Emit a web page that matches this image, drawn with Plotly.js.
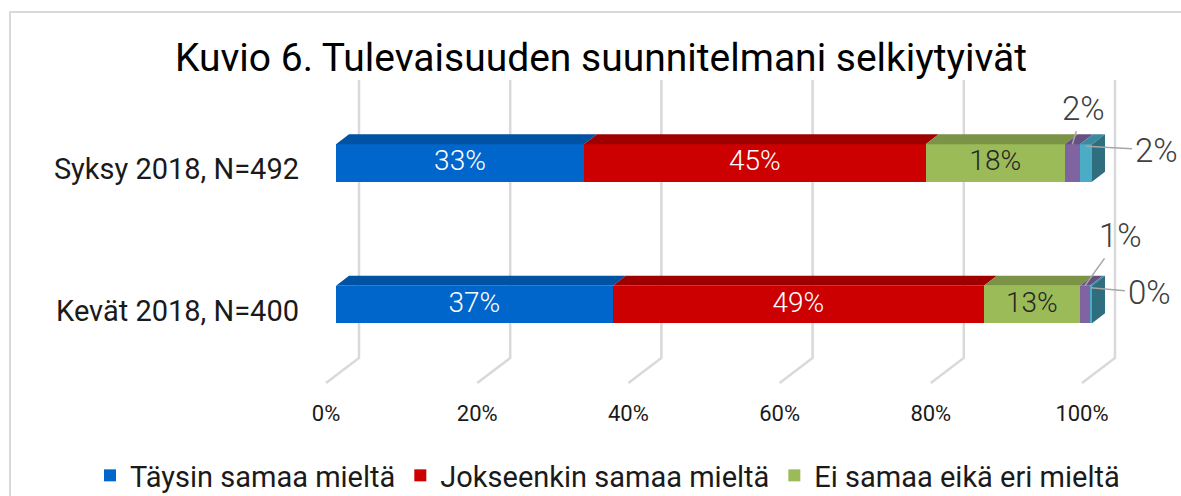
<!DOCTYPE html>
<html>
<head>
<meta charset="utf-8">
<script src="https://cdn.plot.ly/plotly-3.0.1.min.js"></script>
<style>
html,body{margin:0;padding:0;background:#fff;}
#chart{width:1181px;height:496px;}
</style>
</head>
<body>
<div id="chart"></div>
<script>
// ---------- DATA ----------
const categories = ['Kevät 2018, N=400', 'Syksy 2018, N=492'];
const seriesNames = ['Täysin samaa mieltä', 'Jokseenkin samaa mieltä', 'Ei samaa eikä eri mieltä', 'Jokseenkin eri mieltä', 'Täysin eri mieltä'];
const taysinSamaa     = [36.6, 32.8];
const jokseenkinSamaa = [49.1, 45.2];
const eiSamaaEikaEri  = [12.7, 18.4];
const jokseenkinEri   = [1.3, 2.0];
const taysinEri       = [0.3, 1.6];
const xTicks = [0, 20, 40, 60, 80, 100];
const xTickLabels = ['0%', '20%', '40%', '60%', '80%', '100%'];

// ---------- STYLE ----------
const seriesValues = [taysinSamaa, jokseenkinSamaa, eiSamaaEikaEri, jokseenkinEri, taysinEri];
const frontColors = ['#0066CC', '#CC0000', '#9BBB59', '#8064A2', '#4BACC6'];
const topColors   = ['#0052A3', '#9E0000', '#7A9347', '#655083', '#3B8A9F'];
const sideColor   = '#2F6E7F';
const labelColors = ['#FFFFFF', '#FFFFFF', '#262626', null, null];

const W = 1181, H = 496;
const mL = 302, mR = 0, mT = 78, mB = 101;
const plotW = W - mL - mR, plotH = H - mT - mB;
const pxPerX = 7.56, x0px = 336;          // pixel of value 0 (front face)
const pxPerY = 141.5, y0px = 304.5;       // pixel of category index 0
const xRange = [(mL - x0px) / pxPerX, (mL + plotW - x0px) / pxPerX];
const yRange = [(y0px - (mT + plotH)) / pxPerY, (y0px - mT) / pxPerY];
const toXd = px => px / pxPerX;           // pixel offset -> data offset
const toYd = px => -px / pxPerY;
const pxToPaperX = px => (px - mL) / plotW;
const pxToPaperY = py => (mT + plotH - py) / plotH;

const barW = 37.5 / pxPerY;
const depthDx = toXd(13), depthDy = toYd(-10);

const yIdx = categories.map((c, i) => i);

// cumulative bases
const bases = seriesValues.map((arr, s) => arr.map((v, i) => {
  let b = 0; for (let k = 0; k < s; k++) b += seriesValues[k][i]; return b;
}));

const traces = [];
// front faces
seriesValues.forEach((vals, s) => {
  traces.push({
    type: 'bar', orientation: 'h', name: seriesNames[s],
    y: yIdx, x: vals, base: bases[s], width: barW,
    marker: {color: frontColors[s], line: {width: 0}},
    showlegend: s < 3, hoverinfo: 'skip'
  });
});
// top faces
seriesValues.forEach((vals, s) => {
  const xs = [], ys = [];
  vals.forEach((v, i) => {
    const a = bases[s][i], b = a + v, yt = yIdx[i] + barW / 2;
    xs.push(a, b, b + depthDx, a + depthDx, a, null);
    ys.push(yt, yt, yt + depthDy, yt + depthDy, yt, null);
  });
  traces.push({type: 'scatter', mode: 'lines', x: xs, y: ys, fill: 'toself',
    fillcolor: topColors[s], line: {width: 0, color: topColors[s]}, showlegend: false, hoverinfo: 'skip'});
});
// right side face of each bar
{
  const xs = [], ys = [];
  categories.forEach((c, i) => {
    let tot = 0; seriesValues.forEach(a => tot += a[i]);
    const yb = yIdx[i] - barW / 2, yt = yIdx[i] + barW / 2;
    xs.push(tot, tot, tot + depthDx, tot + depthDx, tot, null);
    ys.push(yb, yt, yt + depthDy, yb + depthDy, yb, null);
  });
  traces.push({type: 'scatter', mode: 'lines', x: xs, y: ys, fill: 'toself',
    fillcolor: sideColor, line: {width: 0, color: sideColor}, showlegend: false, hoverinfo: 'skip'});
}
// inside labels
[0, 1, 2].forEach(s => {
  traces.push({type: 'scatter', mode: 'text',
    x: seriesValues[s].map((v, i) => bases[s][i] + v / 2), y: yIdx,
    text: seriesValues[s].map(v => Math.round(v) + '%'),
    textposition: 'middle center',
    textfont: {family: 'Roboto', size: 28, color: labelColors[s], weight: 300},
    showlegend: false, hoverinfo: 'skip', cliponaxis: false});
});

// outside labels with leader lines (annotations)
const calloutOffsets = {3: [[36, -50], [11, -36]], 4: [[59, 5], [71, 4]]};
const annotations = [];
[3, 4].forEach(s => {
  seriesValues[s].forEach((v, i) => {
    const [ax, ay] = calloutOffsets[s][i];
    annotations.push({x: bases[s][i] + v / 2, y: yIdx[i] + barW / 2 + toYd(s === 4 ? 2 : 0),
      xref: 'x', yref: 'y', ax: ax, ay: ay, axref: 'pixel', ayref: 'pixel',
      text: Math.round(v) + '%', showarrow: true, arrowhead: 0, arrowwidth: 1.5,
      arrowcolor: '#A6A6A6', standoff: 0, startstandoff: 2,
      font: {family: 'Roboto', size: 33, color: '#404040', weight: 300}});
  });
});

// gridlines: floor diagonal + back wall vertical
const shapes = [];
const frontDx = toXd(-10), backDx = toXd(23);
const floorFrontY = (y0px - 383) / pxPerY, floorBackY = (y0px - 358) / pxPerY, wallTopY = (y0px - 80) / pxPerY;
xTicks.forEach(v => {
  shapes.push({type: 'path', xref: 'x', yref: 'y', layer: 'below',
    path: `M ${v + frontDx} ${floorFrontY} L ${v + backDx} ${floorBackY} L ${v + backDx} ${wallTopY}`,
    line: {color: '#D9D9D9', width: 2.5}});
});
// chart-area border
shapes.push({type: 'rect', xref: 'paper', yref: 'paper',
  x0: pxToPaperX(10), x1: pxToPaperX(W + 20),
  y0: pxToPaperY(H + 20), y1: pxToPaperY(12),
  line: {color: '#D9D9D9', width: 2}, fillcolor: 'rgba(0,0,0,0)', layer: 'below'});

const layout = {
  width: W, height: H,
  margin: {l: mL, r: mR, t: mT, b: mB, pad: 0, autoexpand: false},
  paper_bgcolor: '#FFFFFF', plot_bgcolor: 'rgba(0,0,0,0)',
  barmode: 'overlay', bargap: 0,
  title: {text: 'Kuvio 6. Tulevaisuuden suunnitelmani selkiytyivät',
    font: {family: 'Roboto', size: 39, color: '#000000', weight: 400},
    x: 601 / W, xanchor: 'center', xref: 'container',
    y: 1 - 57 / H, yanchor: 'middle', yref: 'container'},
  xaxis: {range: xRange, tickmode: 'array', tickvals: xTicks.map(v => v + frontDx), ticktext: xTickLabels,
    showgrid: false, zeroline: false, showline: false, ticks: '', ticklabelstandoff: 3,
    tickfont: {family: 'Roboto', size: 22, color: '#1A1A1A'}, fixedrange: true},
  yaxis: {range: yRange, tickmode: 'array', tickvals: yIdx.map(v => v + toYd(6)), ticktext: categories,
    showgrid: false, zeroline: false, showline: false, ticks: '', ticklabelstandoff: 2,
    tickfont: {family: 'Roboto', size: 29, color: '#1A1A1A'}, fixedrange: true},
  showlegend: true,
  legend: {orientation: 'h', xref: 'paper', yref: 'paper', x: pxToPaperX(90), xanchor: 'left',
    y: pxToPaperY(450), yanchor: 'top', font: {family: 'Roboto', size: 29, color: '#1A1A1A'},
    traceorder: 'normal', itemwidth: 30, bgcolor: 'rgba(0,0,0,0)'},
  shapes: shapes, annotations: annotations
};

Plotly.newPlot('chart', traces, layout, {staticPlot: true, displayModeBar: false});
</script>
</body>
</html>
